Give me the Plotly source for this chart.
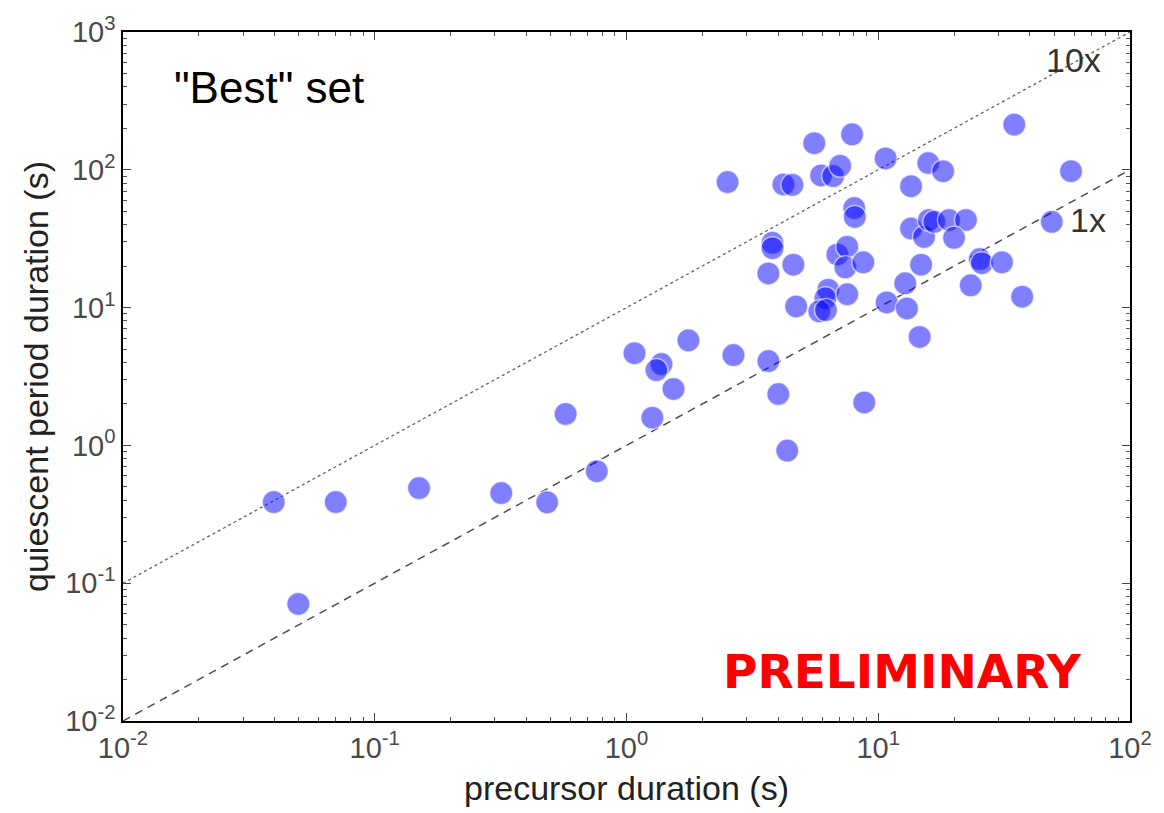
import plotly.graph_objects as go

precursor = [0.0397, 0.070, 0.150, 0.318, 0.484, 0.762, 0.0497, 0.573,
             1.076, 1.377, 1.315, 1.267, 1.537, 1.762, 2.52, 2.66,
             4.20, 4.56, 3.80, 3.80, 3.66, 4.60, 3.66, 4.01, 4.35, 8.80,
             5.57, 7.87, 10.7, 15.8, 18.1, 13.5, 5.93, 6.62, 7.06,
             8.03, 8.07, 6.88, 7.53, 7.40, 8.72,
             6.33, 6.17, 5.83, 6.2, 7.53, 4.72,
             13.5, 15.2, 15.9, 16.7, 19.1, 22.3, 20.0,
             14.8, 12.8, 10.8, 13.0, 14.6, 25.3, 25.8, 31.0, 23.3, 37.3,
             34.7, 58.3, 48.9]
quiescent = [0.388, 0.388, 0.490, 0.451, 0.386, 0.650, 0.0707, 1.69,
             4.67, 3.89, 3.52, 1.59, 2.57, 5.79, 81.5, 4.52,
             78.3, 77.8, 29.5, 27.0, 17.7, 20.5, 4.09, 2.36, 0.917, 2.05,
             156, 181, 121, 112, 97.7, 76.1, 91, 90, 107,
             52.8, 45.5, 24.3, 27.7, 19.6, 21.3,
             13.5, 11.7, 9.4, 9.6, 12.5, 10.2,
             37.5, 32.6, 43.3, 41.9, 43.3, 43.3, 32.1,
             20.5, 15.0, 10.9, 9.87, 6.13, 22.5, 21.0, 21.3, 14.5, 12.0,
             213, 97.7, 41.9]

ref_x = [0.01, 100]
ref_1x = [0.01, 100]
ref_10x = [0.1, 1000]

xtick_vals = [0.01, 0.1, 1, 10, 100]
xtick_text = ["10<sup>-2</sup>", "10<sup>-1</sup>", "10<sup>0</sup>", "10<sup>1</sup>", "10<sup>2</sup>"]
ytick_vals = [0.01, 0.1, 1, 10, 100, 1000]
ytick_text = ["10<sup>-2</sup>", "10<sup>-1</sup>", "10<sup>0</sup>", "10<sup>1</sup>", "10<sup>2</sup>", "10<sup>3</sup>"]

def minor_vals(decades):
    return [m * d for d in decades[:-1] for m in range(2, 10)]

FONT = "Liberation Sans, Arial, sans-serif"

fig = go.Figure()
fig.add_trace(go.Scatter(x=ref_x, y=ref_10x, mode="lines",
                         line=dict(color="rgba(60,60,60,0.8)", width=1.3, dash="dot"),
                         showlegend=False, hoverinfo="skip"))
fig.add_trace(go.Scatter(x=ref_x, y=ref_1x, mode="lines",
                         line=dict(color="rgba(60,60,60,0.9)", width=1.5, dash="8px,6px"),
                         showlegend=False, hoverinfo="skip"))
fig.add_trace(go.Scatter(x=precursor, y=quiescent, mode="markers",
                         marker=dict(size=23, color="rgba(0,0,255,0.5)",
                                     line=dict(color="rgba(255,255,255,0.6)", width=1.5)),
                         showlegend=False))

axis_common = dict(type="log", showgrid=False, zeroline=False, showline=True,
                   linecolor="black", linewidth=1.5, mirror="allticks",
                   ticks="inside", ticklen=8, tickcolor="#444", tickwidth=1,
                   tickfont=dict(family=FONT, size=29, color="#4a4a4a"))

fig.update_xaxes(**axis_common, range=[-2, 2], tickmode="array",
                 tickvals=xtick_vals, ticktext=xtick_text,
                 minor=dict(tickmode="array", tickvals=minor_vals(xtick_vals), ticks="inside",
                            ticklen=4, tickcolor="#555", tickwidth=1, showgrid=False),
                 title=dict(text="precursor duration (s)",
                            font=dict(family=FONT, size=34, color="#222"), standoff=14))
fig.update_yaxes(**axis_common, range=[-2, 3], tickmode="array",
                 tickvals=ytick_vals, ticktext=ytick_text,
                 minor=dict(tickmode="array", tickvals=minor_vals(ytick_vals), ticks="inside",
                            ticklen=4, tickcolor="#555", tickwidth=1, showgrid=False),
                 title=dict(text="quiescent period duration (s)",
                            font=dict(family=FONT, size=34, color="#222"), standoff=6))

fig.add_annotation(x=-1.42, y=2.60, xref="x", yref="y", text='"Best" set', showarrow=False,
                   font=dict(family=FONT, size=44, color="black"))
fig.add_annotation(x=1.775, y=2.80, xref="x", yref="y", text="10x", showarrow=False,
                   font=dict(family=FONT, size=34, color="#333"))
fig.add_annotation(x=1.835, y=1.635, xref="x", yref="y", text="1x", showarrow=False,
                   font=dict(family=FONT, size=34, color="#333"))
fig.add_annotation(x=1.095, y=-1.64, xref="x", yref="y", text="<b>PRELIMINARY</b>", showarrow=False,
                   font=dict(family="DejaVu Sans", size=47, color="#ff0000"))

fig.update_layout(width=1164, height=813, margin=dict(l=123, r=33, t=29, b=91),
                  plot_bgcolor="white", paper_bgcolor="white")

fig.write_html("out.html")
